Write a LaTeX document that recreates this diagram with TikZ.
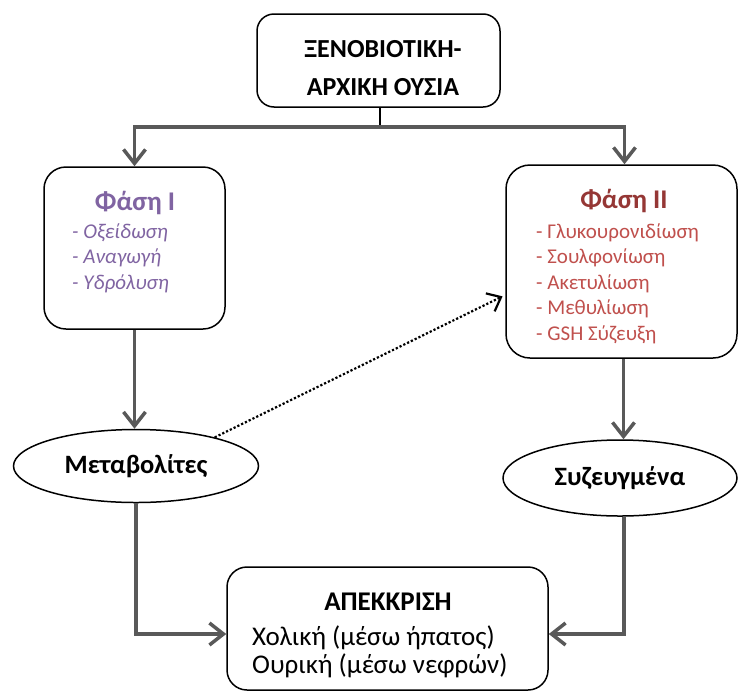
\documentclass[tikz,border=0pt]{standalone}
\usepackage{fontspec}
\setmainfont{Carlito}
\usetikzlibrary{positioning, shapes.geometric, arrows.meta}
\definecolor{linegray}{HTML}{595959}
\definecolor{phaseone}{HTML}{8064A2}
\definecolor{phasetwo}{HTML}{953735}
\definecolor{phasetwoitem}{HTML}{C0504D}
\tikzstyle{box} = [rectangle, rounded corners=20pt, draw=black, line width=1.5pt, fill=white, inner sep=0pt]
\tikzstyle{blob} = [ellipse, draw=black, line width=1.5pt, fill=white, inner sep=0pt, font=\fontsize{26.5}{30}\selectfont\bfseries]
\tikzstyle{txt} = [inner sep=0pt]
\tikzstyle{arrow} = [draw=linegray, line width=3.5pt, -{Straight Barb[length=14pt, width=22pt]}]
\tikzstyle{dotarrow} = [draw=black, line width=2.2pt, dotted, -{Straight Barb[length=12pt, width=20pt]}]

\begin{document}
\begin{tikzpicture}[x=1pt, y=-1pt]
\useasboundingbox (0,0) rectangle (738,691);

\node (src) [box, rounded corners=17pt, minimum width=243pt, minimum height=93pt] at (378.5,60.5) {};
\node (srctext) [txt, anchor=base, font=\fontsize{26}{38}\selectfont\bfseries] at (383,57)
  {\begin{tabular}[t]{@{}c@{}}ΞΕΝΟΒΙΟΤΙΚΗ-\\ΑΡΧΙΚΗ ΟΥΣΙΑ\end{tabular}};

\node (phone) [box, rounded corners=22pt, minimum width=181pt, minimum height=162pt] at (134.5,248) {};
\node (phonetitle) [txt, anchor=base, text=phaseone, font=\fontsize{27}{30}\selectfont\bfseries] at (135,210) {Φάση I};
\node (phonelist) [txt, anchor=base west, text=phaseone, font=\fontsize{21}{25.5}\selectfont\itshape] at (72,238)
  {\begin{tabular}[t]{@{}l@{}}- Οξείδωση\\- Αναγωγή\\- Υδρόλυση\end{tabular}};

\node (phtwo) [box, rounded corners=24pt, minimum width=231pt, minimum height=193pt] at (621.5,261.5) {};
\node (phtwotitle) [txt, anchor=base, text=phasetwo, font=\fontsize{27}{30}\selectfont\bfseries] at (624,208) {Φάση II};
\node (phtwolist) [txt, anchor=base west, text=phasetwoitem, font=\fontsize{21}{25.5}\selectfont] at (536,238)
  {\begin{tabular}[t]{@{}l@{}}- Γλυκουρονιδίωση\\- Σουλφονίωση\\- Ακετυλίωση\\- Μεθυλίωση\\- GSH Σύζευξη\end{tabular}};

\node (metab) [blob, minimum width=245pt, minimum height=73pt] at (136,466) {Μεταβολίτες};
\node (conj) [blob, minimum width=234pt, minimum height=76pt] at (620,478) {Συζευγμένα};

\node (excr) [box, rounded corners=20pt, minimum width=321pt, minimum height=123pt] at (387.5,628.5) {};
\node (excrtitle) [txt, anchor=base, font=\fontsize{27}{30}\selectfont\bfseries] at (388,610) {ΑΠΕΚΚΡΙΣΗ};
\node (excrlist) [txt, anchor=base west, font=\fontsize{27}{28.5}\selectfont] at (252,645)
  {\begin{tabular}[t]{@{}l@{}}Χολική (μέσω ήπατος)\\Ουρική (μέσω νεφρών)\end{tabular}};

\coordinate (fork) at (380,127);
\draw [black, line width=2pt] (src.south -| fork) -- (fork);
\draw [arrow] (fork) -| (phone.north);
\draw [arrow] (fork) -| ([xshift=3pt]phtwo.north);
\draw [arrow] (phone.south) -- (phone.south |- metab.north);
\draw [arrow] ([xshift=2pt]phtwo.south) -- ([xshift=2pt]phtwo.south |- conj.north);
\draw [dotarrow, shorten >=3pt] (metab.20) -- ([yshift=-33.5pt]phtwo.west);
\draw [arrow] (metab.south) |- ([yshift=-5.5pt]excr.west);
\draw [arrow] ([xshift=4pt]conj.south) |- ([yshift=-5.5pt]excr.east);

\end{tikzpicture}
\end{document}
